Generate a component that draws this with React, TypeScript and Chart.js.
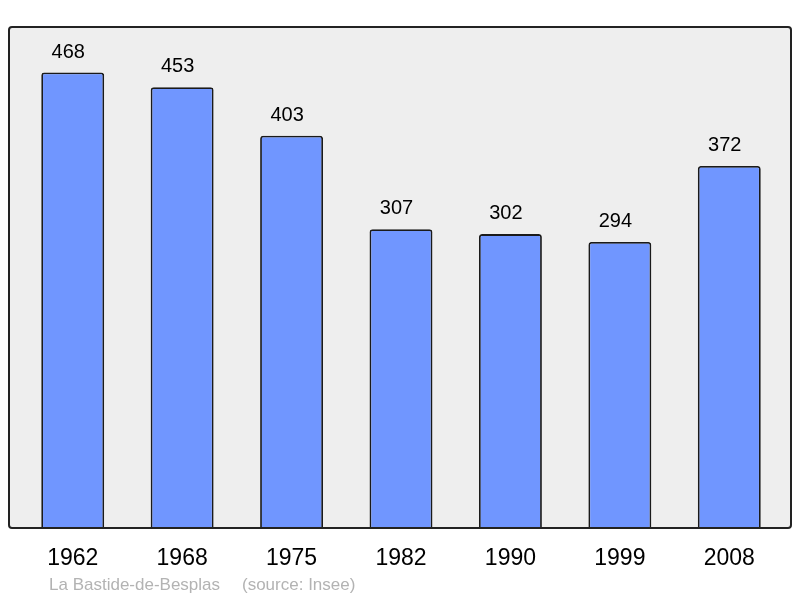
import React, { useEffect, useRef } from "react";
import { Chart, registerables } from "chart.js";

Chart.register(...registerables);

const years = ["1962", "1968", "1975", "1982", "1990", "1999", "2008"];
const population = [468, 453, 403, 307, 302, 294, 372];
const footerName = "La Bastide-de-Besplas";
const footerSource = "(source: Insee)";

const FONT = "'Liberation Sans', Arial, sans-serif";

const boxPlugin = {
  id: "boxPlugin",
  beforeDraw(chart: any) {
    const { ctx, chartArea } = chart;
    const l = chartArea.left - 9;
    const r = chartArea.right + 7;
    const t = chartArea.top;
    const b = chartArea.bottom;
    ctx.save();
    ctx.beginPath();
    (ctx as any).roundRect(l, t, r - l, b - t, 3);
    ctx.fillStyle = "#eeeeee";
    ctx.fill();
    ctx.restore();
  },
  afterDatasetsDraw(chart: any) {
    const { ctx, chartArea } = chart;
    const l = chartArea.left - 9;
    const r = chartArea.right + 7;
    const t = chartArea.top;
    const b = chartArea.bottom;
    ctx.save();
    ctx.beginPath();
    (ctx as any).roundRect(l, t, r - l, b - t, 3);
    ctx.lineWidth = 2;
    ctx.strokeStyle = "#222222";
    ctx.stroke();
    // value labels
    const meta = chart.getDatasetMeta(0);
    ctx.fillStyle = "#000000";
    ctx.font = `20px ${FONT}`;
    ctx.textAlign = "center";
    ctx.textBaseline = "alphabetic";
    meta.data.forEach((el: any, i: number) => {
      ctx.fillText(String(chart.data.datasets[0].data[i]), el.x - 4.5, el.y - 15);
    });
    // footer
    ctx.fillStyle = "#b3b3b3";
    ctx.font = `17px ${FONT}`;
    ctx.textAlign = "left";
    ctx.fillText(footerName, 49, 590);
    ctx.fillText(footerSource, 242, 590);
    ctx.restore();
  },
};

export default function App() {
  const ref = useRef<HTMLCanvasElement>(null);
  useEffect(() => {
    if (!ref.current) return;
    const chart = new Chart(ref.current, {
      type: "bar",
      data: {
        labels: years,
        datasets: [
          {
            data: population,
            backgroundColor: "#7096ff",
            borderColor: "#1a1a1a",
            borderWidth: 1.8,
            borderSkipped: "bottom",
            borderRadius: { topLeft: 3, topRight: 3, bottomLeft: 0, bottomRight: 0 },
            barPercentage: 0.575,
            categoryPercentage: 1,
          },
        ],
      },
      options: {
        responsive: false,
        animation: false,
        layout: { padding: { left: 18, right: 16, top: 27, bottom: 0 } },
        plugins: {
          legend: { display: false },
          tooltip: { enabled: false },
          title: { display: false },
        },
        scales: {
          x: {
            grid: { display: false, drawTicks: false },
            border: { display: false },
            ticks: {
              color: "#000000",
              font: { size: 23, family: FONT },
              padding: 17,
              maxRotation: 0,
            },
            afterFit: (scale: any) => {
              scale.height = 70;
            },
          },
          y: {
            display: false,
            min: 0,
            max: Math.max(...population) * 1.1,
          },
        },
      },
      plugins: [boxPlugin],
    });
    return () => chart.destroy();
  }, []);
  return (
    <div style={{ position: "fixed", left: 0, top: 0, width: 800, height: 598, background: "#ffffff" }}>
      <canvas ref={ref} width={800} height={598} />
    </div>
  );
}
